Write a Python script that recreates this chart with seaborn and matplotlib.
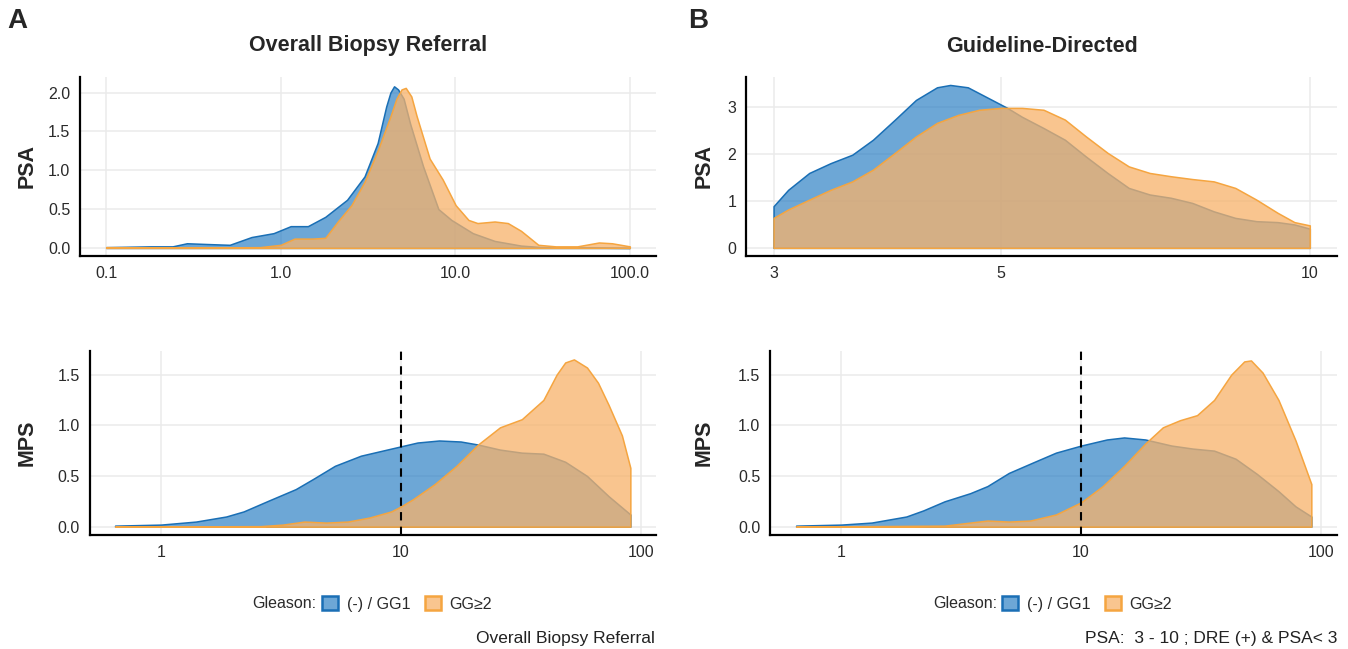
import matplotlib
matplotlib.use("Agg")
import matplotlib.pyplot as plt
import seaborn as sns
from matplotlib.colors import to_rgba
from matplotlib.patches import Patch

# density curves (x on log scale, y = density)
# Panel A - Overall Biopsy Referral, PSA
a_psa_neg_x = [0.1, 0.18, 0.24, 0.29, 0.38, 0.51, 0.68, 0.91, 1.14, 1.43, 1.80, 2.40, 3.02, 3.59,
               4.02, 4.25, 4.46, 4.7, 5.06, 5.51, 6.54, 8.0, 9.5, 12.6, 16.8, 23.8, 31.6, 50.0, 100.0]
a_psa_neg_y = [0.01, 0.02, 0.02, 0.06, 0.05, 0.04, 0.14, 0.19, 0.28, 0.28, 0.40, 0.62, 0.92, 1.35,
               1.82, 2.0, 2.08, 2.04, 1.92, 1.60, 1.05, 0.50, 0.36, 0.19, 0.09, 0.03, 0.01, 0.005, 0.0]
a_psa_pos_x = [0.1, 0.3, 0.76, 1.0, 1.2, 1.52, 1.80, 2.14, 2.54, 3.02, 3.59, 4.26, 4.6, 4.92, 5.2, 5.6,
               6.0, 7.13, 8.47, 10.05, 11.9, 13.4, 16.8, 20.0, 23.8, 29.9, 37.6, 50.0, 66.5, 79.0, 100.0]
a_psa_pos_y = [0.01, 0.005, 0.01, 0.04, 0.12, 0.12, 0.13, 0.35, 0.55, 0.85, 1.25, 1.70, 1.92, 2.04,
               2.06, 1.95, 1.70, 1.15, 0.88, 0.55, 0.36, 0.32, 0.34, 0.32, 0.22, 0.04, 0.02, 0.02,
               0.07, 0.06, 0.02]

# Panel A - MPS
a_mps_neg_x = [0.645, 1.0, 1.40, 1.87, 2.21, 2.83, 3.64, 4.30, 5.30, 6.80, 9.10, 11.7, 14.4, 17.7,
               20.9, 25.8, 31.8, 39.1, 48.2, 59.4, 73.1, 90.0]
a_mps_neg_y = [0.01, 0.02, 0.05, 0.10, 0.15, 0.26, 0.37, 0.47, 0.60, 0.70, 0.77, 0.83, 0.85, 0.84,
               0.81, 0.76, 0.73, 0.72, 0.64, 0.50, 0.30, 0.12]
a_mps_pos_x = [0.645, 2.61, 3.21, 3.96, 4.87, 6.0, 7.39, 9.10, 10.0, 11.2, 13.8, 17.0, 20.9, 25.8,
               31.8, 39.1, 44.4, 48.2, 52.4, 59.4, 66.0, 73.1, 83.0, 90.0]
a_mps_pos_y = [0.0, 0.005, 0.02, 0.05, 0.04, 0.05, 0.09, 0.15, 0.20, 0.27, 0.42, 0.60, 0.81, 0.98,
               1.06, 1.25, 1.50, 1.62, 1.65, 1.57, 1.42, 1.20, 0.90, 0.58]

# Panel B - Guideline-Directed, PSA
b_psa_neg_x = [3.0, 3.10, 3.25, 3.41, 3.58, 3.75, 3.94, 4.13, 4.33, 4.46, 4.64, 4.86, 5.07, 5.24,
               5.50, 5.77, 6.05, 6.35, 6.66, 6.98, 7.32, 7.68, 8.06, 8.46, 8.87, 9.30, 9.66, 10.0]
b_psa_neg_y = [0.89, 1.24, 1.60, 1.81, 1.99, 2.31, 2.74, 3.16, 3.43, 3.48, 3.43, 3.20, 2.99, 2.80,
               2.56, 2.31, 1.95, 1.60, 1.28, 1.14, 1.07, 0.96, 0.78, 0.64, 0.57, 0.55, 0.50, 0.41]
b_psa_pos_x = [3.0, 3.10, 3.25, 3.41, 3.58, 3.75, 3.94, 4.13, 4.33, 4.54, 4.76, 5.0, 5.24, 5.50,
               5.77, 6.05, 6.35, 6.66, 6.98, 7.32, 7.68, 8.06, 8.46, 8.87, 9.30, 9.66, 10.0]
b_psa_pos_y = [0.64, 0.82, 1.03, 1.24, 1.42, 1.67, 2.03, 2.38, 2.67, 2.84, 2.95, 2.99, 2.99, 2.95,
               2.74, 2.38, 2.03, 1.74, 1.60, 1.53, 1.47, 1.42, 1.28, 1.03, 0.75, 0.55, 0.48]

# Panel B - MPS
b_mps_neg_x = [0.65, 1.0, 1.34, 1.87, 2.20, 2.70, 3.45, 4.07, 5.0, 6.4, 7.85, 10.0, 12.8, 15.1,
               18.5, 23.8, 29.2, 35.8, 44.0, 54.0, 66.4, 78.2, 91.0]
b_mps_neg_y = [0.01, 0.02, 0.04, 0.10, 0.16, 0.25, 0.33, 0.40, 0.53, 0.64, 0.73, 0.80, 0.86, 0.88,
               0.86, 0.80, 0.77, 0.75, 0.67, 0.52, 0.35, 0.20, 0.10]
b_mps_pos_x = [0.65, 2.70, 3.45, 4.07, 5.0, 6.14, 7.85, 10.0, 12.3, 15.1, 18.5, 21.9, 25.8, 30.4,
               35.8, 42.2, 47.8, 51.0, 57.0, 66.4, 78.2, 91.0]
b_mps_pos_y = [0.0, 0.01, 0.04, 0.06, 0.05, 0.06, 0.12, 0.24, 0.40, 0.60, 0.82, 0.98, 1.05, 1.10,
               1.25, 1.50, 1.63, 1.64, 1.52, 1.25, 0.85, 0.42]

groups = ["(-) / GG1", "GG≥2"]
fills = [to_rgba("#1f78c1", 0.65), to_rgba("#f7b26a", 0.75)]
edges = ["#1a6fb5", "#f5a540"]

W, H = 1348, 649


def px_axes(fig, left, top, right, bottom):
    return fig.add_axes([left / W, 1 - bottom / H, (right - left) / W, (bottom - top) / H])


def density_panel(ax, curves, xlim, ylim, xticks, xlabels, yticks, ylabels, cutoff=None):
    for (x, y), fc, ec in zip(curves, fills, edges):
        ax.fill_between(x, y, 0, facecolor=fc, edgecolor=ec, linewidth=1.1, zorder=3)
    if cutoff is not None:
        ax.axvline(cutoff, color="black", linestyle=(0, (4, 3)), linewidth=1.5, zorder=4)
    ax.set_xscale("log")
    ax.set_xlim(*xlim)
    ax.set_ylim(*ylim)
    ax.set_xticks(xticks, xlabels)
    ax.set_yticks(yticks, ylabels)
    ax.minorticks_off()
    ax.grid(True, color="#ebebeb", linewidth=1.1, zorder=0)
    ax.set_axisbelow(True)
    sns.despine(ax=ax)
    for s in ["left", "bottom"]:
        ax.spines[s].set_color("black")
        ax.spines[s].set_linewidth(1.6)
    ax.tick_params(axis="both", length=4, width=1.2, color="black", labelsize=11.5,
                   labelcolor="#2a2a2a", direction="out", pad=3)
    ax.set_facecolor("white")


sns.set_theme(style="whitegrid")
plt.rcParams["font.family"] = ["Liberation Sans", "DejaVu Sans"]

fig = plt.figure(figsize=(W / 100, H / 100), dpi=100)
fig.patch.set_facecolor("white")

ax1 = px_axes(fig, 80, 77, 656, 256)
density_panel(ax1, [(a_psa_neg_x, a_psa_neg_y), (a_psa_pos_x, a_psa_pos_y)],
              (10 ** -1.15, 10 ** 2.15), (-0.104, 2.2),
              [0.1, 1, 10, 100], ["0.1", "1.0", "10.0", "100.0"],
              [0, 0.5, 1, 1.5, 2], ["0.0", "0.5", "1.0", "1.5", "2.0"])

ax2 = px_axes(fig, 746, 77, 1337, 256)
density_panel(ax2, [(b_psa_neg_x, b_psa_neg_y), (b_psa_pos_x, b_psa_pos_y)],
              (2.82, 10.63), (-0.174, 3.65),
              [3, 5, 10], ["3", "5", "10"],
              [0, 1, 2, 3], ["0", "1", "2", "3"])

ax3 = px_axes(fig, 89.5, 351, 656, 535)
density_panel(ax3, [(a_mps_neg_x, a_mps_neg_y), (a_mps_pos_x, a_mps_pos_y)],
              (10 ** -0.297, 10 ** 2.061), (-0.0825, 1.733),
              [1, 10, 100], ["1", "10", "100"],
              [0, 0.5, 1, 1.5], ["0.0", "0.5", "1.0", "1.5"], cutoff=10)

ax4 = px_axes(fig, 770, 351, 1337, 535)
density_panel(ax4, [(b_mps_neg_x, b_mps_neg_y), (b_mps_pos_x, b_mps_pos_y)],
              (10 ** -0.296, 10 ** 2.066), (-0.0825, 1.733),
              [1, 10, 100], ["1", "10", "100"],
              [0, 0.5, 1, 1.5], ["0.0", "0.5", "1.0", "1.5"], cutoff=10)

# panel letters and titles
fig.text(17 / W, 1 - 21 / H, "A", fontsize=20, fontweight="bold", ha="center", va="center")
fig.text(698 / W, 1 - 21 / H, "B", fontsize=20, fontweight="bold", ha="center", va="center")
fig.text(368 / W, 1 - 46 / H, "Overall Biopsy Referral", fontsize=15.5, fontweight="bold",
         ha="center", va="center")
fig.text(1042 / W, 1 - 46 / H, "Guideline-Directed", fontsize=15.5, fontweight="bold",
         ha="center", va="center")

# row labels
for xp in (27, 704):
    fig.text(xp / W, 1 - 166 / H, "PSA", fontsize=15.5, fontweight="bold", rotation=90,
             ha="center", va="center")
    fig.text(xp / W, 1 - 443 / H, "MPS", fontsize=15.5, fontweight="bold", rotation=90,
             ha="center", va="center")

# legends
handles = [Patch(facecolor=fc, edgecolor=ec, linewidth=1.8) for fc, ec in zip(fills, edges)]
for gx, lx in ((316, 322), (997, 1002)):
    fig.text(gx / W, 1 - 604 / H, "Gleason:", fontsize=11.5, color="#2a2a2a",
             ha="right", va="center")
    fig.legend(handles, groups, loc="center left", bbox_to_anchor=(lx / W, 1 - 604 / H),
               ncol=2, frameon=False, fontsize=11.5, handlelength=1.0, handleheight=1.0,
               handletextpad=0.55, columnspacing=0.9, borderpad=0, borderaxespad=0,
               labelcolor="#2a2a2a")

# captions
fig.text(655 / W, 1 - 638 / H, "Overall Biopsy Referral", fontsize=12.5, color="#222222",
         ha="right", va="center")
fig.text(1337 / W, 1 - 638 / H, "PSA:  3 - 10 ; DRE (+) & PSA< 3", fontsize=12.5,
         color="#222222", ha="right", va="center")

fig.savefig("out.png", dpi=100, facecolor="white")
